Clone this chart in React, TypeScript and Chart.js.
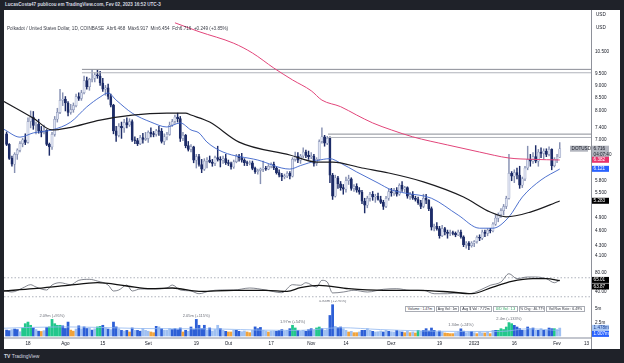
import React, { useEffect, useRef } from "react";
import { Chart, registerables } from "chart.js";

Chart.register(...registerables);

const FONT = "'Liberation Sans', 'DejaVu Sans', Arial, sans-serif";

// Daily DOT/USD candles, index 0 = 10 Jul 2022 ... index 207 = 2 Feb 2023
const opens = [7.20,6.86,6.43,6.26,6.55,6.68,6.88,7.00,6.92,7.62,
7.78,7.48,7.52,7.30,7.25,7.32,6.86,6.78,7.18,7.70,
7.95,8.40,8.45,8.30,7.95,8.05,8.20,8.55,8.48,8.70,
9.20,8.95,9.25,9.30,9.45,9.40,9.10,8.85,8.90,8.55,
8.22,7.30,7.15,7.45,7.40,7.58,7.50,7.62,7.00,6.98,
6.88,7.08,7.02,7.05,7.25,7.20,7.18,7.30,7.28,6.95,
7.10,7.18,7.50,7.62,7.78,7.72,7.05,7.15,6.82,6.70,
6.78,6.38,6.48,6.25,6.12,6.35,6.38,6.32,6.28,6.45,
6.40,6.38,6.42,6.30,6.28,6.18,6.33,6.50,6.45,6.38,
6.30,6.28,6.30,6.14,6.05,6.08,6.12,6.15,6.12,6.20,
6.26,6.15,6.02,5.95,5.90,5.93,6.00,5.92,6.40,6.50,
6.38,6.50,6.62,6.52,6.48,6.50,6.28,6.40,6.95,7.10,
6.90,7.05,5.95,5.40,5.88,5.72,5.62,5.58,5.80,5.85,
5.60,5.65,5.55,5.50,5.28,5.18,5.35,5.45,5.38,5.40,
5.32,5.25,5.15,5.35,5.52,5.48,5.55,5.45,5.68,5.58,
5.62,5.40,5.45,5.35,5.32,5.24,5.15,5.35,5.30,5.10,
4.68,4.70,4.65,4.50,4.65,4.58,4.55,4.56,4.55,4.52,
4.58,4.48,4.32,4.35,4.30,4.35,4.38,4.47,4.45,4.58,
4.55,4.62,4.60,4.75,4.88,4.96,5.05,5.15,5.35,6.00,
5.92,6.02,5.95,5.68,5.85,6.15,6.40,6.35,6.48,6.35,
6.62,6.58,6.65,6.55,6.70,6.22,6.41,6.467];

const highs = [7.26,6.88,6.50,6.60,6.72,6.95,7.05,7.20,7.75,8.00,
7.98,7.60,7.70,7.45,7.50,7.34,6.90,7.25,7.80,8.10,
8.84,8.70,8.55,8.35,8.25,8.30,8.65,8.70,8.80,9.40,
9.35,9.30,9.66,9.55,9.65,9.60,9.30,9.00,9.05,8.65,
8.25,7.45,7.55,7.60,7.70,7.75,7.72,7.68,7.10,7.05,
7.15,7.22,7.25,7.30,7.40,7.28,7.35,7.45,7.38,7.20,
7.25,7.60,7.70,7.85,7.92,7.80,7.25,7.18,6.95,6.85,
6.80,6.55,6.55,6.40,6.42,6.45,6.50,6.40,6.50,6.80,
6.48,6.50,6.55,6.38,6.32,6.38,6.55,6.55,6.58,6.42,
6.35,6.36,6.35,6.18,6.12,6.15,6.35,6.20,6.25,6.30,
6.32,6.18,6.10,6.00,5.98,6.05,6.05,6.45,6.62,6.60,
6.55,6.75,6.68,6.65,6.60,6.55,6.45,7.00,7.40,7.15,
7.12,7.10,6.00,5.95,5.92,5.78,5.70,5.90,5.95,5.88,
5.70,5.72,5.62,5.55,5.35,5.40,5.50,5.52,5.45,5.48,
5.40,5.30,5.40,5.58,5.60,5.60,5.62,5.72,5.78,5.65,
5.64,5.50,5.52,5.40,5.38,5.30,5.45,5.45,5.32,5.14,
4.75,4.78,4.70,4.72,4.68,4.62,4.62,4.60,4.58,4.62,
4.62,4.50,4.38,4.38,4.38,4.40,4.50,4.52,4.62,4.62,
4.65,4.66,4.78,4.95,5.00,5.10,5.20,5.40,6.55,6.05,
6.10,6.15,6.20,5.90,6.20,6.80,6.55,6.60,6.82,6.70,
6.75,6.72,6.72,6.78,6.72,6.45,6.55,6.917];

const lows = [6.82,6.40,6.20,6.02,6.40,6.62,6.78,6.85,6.90,7.40,
7.35,7.20,7.22,7.10,7.20,6.82,6.52,6.70,7.12,7.60,
7.90,8.20,8.00,7.82,7.88,7.95,8.15,8.40,8.40,8.65,
8.85,8.80,9.15,9.15,9.30,9.00,8.75,8.60,8.45,8.15,
7.20,6.95,7.10,7.05,7.25,7.40,7.45,6.95,6.88,6.82,
6.85,6.90,6.98,6.92,7.10,7.10,7.12,7.15,6.90,6.85,
7.00,7.15,7.45,7.55,7.60,6.95,6.98,6.75,6.65,6.62,
6.30,6.15,6.20,6.02,6.08,6.15,6.30,6.20,6.22,6.35,
6.18,6.28,6.25,6.22,6.12,6.14,6.30,6.35,6.32,6.22,
6.22,6.24,6.10,6.00,5.98,5.72,6.05,6.08,6.10,6.15,
6.10,5.98,5.90,5.80,5.85,5.88,5.85,5.90,6.35,6.30,
6.28,6.45,6.45,6.40,6.42,6.20,6.22,6.38,6.90,6.80,
6.85,5.75,5.32,5.38,5.60,5.55,5.45,5.50,5.70,5.55,
5.52,5.50,5.45,5.22,5.00,5.12,5.28,5.30,5.25,5.30,
5.22,5.08,5.12,5.30,5.40,5.42,5.40,5.42,5.52,5.50,
5.35,5.32,5.32,5.28,5.20,5.10,5.12,5.22,5.05,4.62,
4.60,4.62,4.45,4.48,4.52,4.45,4.50,4.52,4.48,4.50,
4.45,4.28,4.25,4.22,4.27,4.28,4.35,4.40,4.42,4.48,
4.50,4.56,4.58,4.72,4.80,4.90,4.95,5.10,5.33,5.80,
5.75,5.85,5.60,5.62,5.80,6.10,6.20,6.28,6.30,6.20,
6.45,6.40,6.48,6.50,6.10,6.18,6.30,6.454];

const closes = [6.86,6.43,6.26,6.55,6.68,6.88,7.00,6.92,7.62,7.78,
7.48,7.52,7.30,7.25,7.32,6.86,6.78,7.18,7.70,7.95,
8.40,8.45,8.30,7.95,8.05,8.20,8.55,8.48,8.70,9.20,
8.95,9.25,9.30,9.45,9.40,9.10,8.85,8.90,8.55,8.22,
7.30,7.15,7.45,7.40,7.58,7.50,7.62,7.00,6.98,6.88,
7.08,7.02,7.05,7.25,7.20,7.18,7.30,7.28,6.95,7.10,
7.18,7.50,7.62,7.78,7.72,7.05,7.15,6.82,6.70,6.78,
6.38,6.48,6.25,6.12,6.35,6.38,6.32,6.28,6.45,6.40,
6.38,6.42,6.30,6.28,6.18,6.33,6.50,6.45,6.38,6.30,
6.28,6.30,6.14,6.05,6.08,6.12,6.15,6.12,6.20,6.26,
6.15,6.02,5.95,5.90,5.93,6.00,5.92,6.40,6.50,6.38,
6.50,6.62,6.52,6.48,6.50,6.28,6.40,6.95,7.10,6.90,
7.05,5.95,5.40,5.88,5.72,5.62,5.58,5.80,5.85,5.60,
5.65,5.55,5.50,5.28,5.18,5.35,5.45,5.38,5.40,5.32,
5.25,5.15,5.35,5.52,5.48,5.55,5.45,5.68,5.58,5.62,
5.40,5.45,5.35,5.32,5.24,5.15,5.35,5.30,5.10,4.68,
4.70,4.65,4.50,4.65,4.58,4.55,4.56,4.55,4.52,4.58,
4.48,4.32,4.35,4.30,4.35,4.38,4.47,4.45,4.58,4.55,
4.62,4.60,4.75,4.88,4.96,5.05,5.15,5.35,6.00,5.92,
6.02,5.95,5.68,5.85,6.15,6.40,6.35,6.48,6.35,6.62,
6.58,6.65,6.55,6.70,6.22,6.41,6.467,6.716];

// Volume in millions and the indicator's colour class (b=blue, l=light blue, g=green, o=orange)
const volumesM = [1.1,1.0,1.2,1.3,1.2,0.8,1.5,2.3,2.6,2.0,
1.5,1.2,0.9,0.85,1.0,1.6,1.7,3.1,2.3,2.0,
2.0,1.9,1.4,2.6,1.1,0.9,1.3,1.9,1.35,1.7,
1.4,1.5,1.1,1.35,1.7,1.8,2.0,1.5,1.3,1.2,
2.6,1.7,1.35,1.05,0.93,1.05,0.75,1.5,1.05,1.05,
0.9,1.35,1.05,0.9,0.75,0.62,1.8,1.7,1.37,1.06,
1.06,1.37,1.2,1.37,1.18,1.5,0.75,1.06,0.9,1.68,
1.2,3.1,2.0,1.37,2.0,1.06,1.5,0.93,1.2,2.0,
1.37,1.06,0.87,0.75,0.75,1.06,1.06,0.87,0.8,0.93,
0.75,0.62,1.06,1.7,1.37,1.6,1.06,0.93,0.75,0.87,
0.9,0.87,1.06,1.2,0.9,1.06,1.37,2.0,1.5,1.06,
0.87,1.06,0.87,1.18,1.37,1.06,1.5,1.68,1.37,1.06,
1.2,3.83,5.84,1.8,1.55,1.68,1.37,1.06,0.75,0.87,
0.62,0.62,0.75,1.06,1.06,1.37,1.06,0.87,0.75,0.8,
0.93,0.75,1.06,0.87,0.8,0.75,1.06,0.87,0.75,0.62,
0.87,0.62,0.75,0.56,1.06,0.87,1.06,1.37,0.93,1.49,
1.06,0.75,0.93,0.75,0.56,0.5,0.44,0.44,0.62,0.75,
1.34,0.9,0.62,0.75,0.87,0.62,0.44,0.75,0.6,0.56,
0.75,0.44,1.06,1.06,1.06,1.37,1.2,1.68,2.5,2.3,
1.99,1.68,1.37,1.06,1.06,1.68,1.37,1.49,1.06,1.06,
1.37,1.06,1.06,1.49,1.37,1.37,1.2,1.478];

const volumeClass = ("bblbblgggg" + "blbolbgggg" + "gbbboolblb" + "blblggblbl" + "bblblboblb" +
  "blllooblbl" + "llbbbboblb" + "bbbbblblll" + "blboolbbll" + "oolbbbllol" +
  "lbbbllbggb" + "llbbblggbl" + "lbblbbllol" + "oolbbllbll" + "lblbllblbo" +
  "lologlbbbb" + "blblooooll" + "bbllblollo" + "lolbgggggg" + "bbbblblblb" + "lblbbgll").split("");

// Moving averages (day index, value)
const ma200Days = [63, 72, 85, 92, 100, 107, 114, 118, 125, 131, 137, 144, 152, 165, 177, 188, 197, 207];
const ma200Vals = [12.01, 11.53, 10.93, 10.45, 9.75, 9.23, 8.78, 8.41, 8.16, 7.85, 7.57, 7.33, 7.10, 6.84, 6.62, 6.44, 6.40, 6.382];
const ma50Days = [-1, 10, 17, 23, 35, 47, 60, 67, 69, 76, 87, 106, 116, 122, 133, 143, 156, 171, 181, 187, 196, 207];
const ma50Vals = [8.36, 7.74, 7.33, 7.40, 7.67, 7.85, 7.92, 7.92, 7.85, 7.60, 6.93, 6.53, 6.32, 6.32, 6.15, 6.01, 5.77, 5.38, 5.02, 4.91, 5.02, 5.283];
const ema20Days = [-1, 5, 10, 17, 24, 30, 35, 38, 41, 47, 54, 60, 65, 69, 72, 75, 81, 94, 106, 110, 116, 121, 125, 131, 139, 144, 149, 159, 169, 177, 182, 188, 193, 200, 207];
const ema20Vals = [7.35, 7.09, 7.23, 7.33, 7.60, 8.15, 8.53, 8.69, 8.41, 7.92, 7.60, 7.43, 7.57, 7.33, 7.23, 6.93, 6.62, 6.38, 6.12, 6.22, 6.36, 6.42, 6.29, 6.04, 5.74, 5.56, 5.48, 5.35, 4.95, 4.66, 4.66, 4.91, 5.38, 5.82, 6.121];

// RSI and its moving average
const rsiDays = [-1, 2, 6, 9, 11, 15, 17, 20, 24, 27, 31, 34, 38, 40, 42, 45, 47, 50, 55, 60, 62, 65, 69, 72, 76, 80, 85, 91, 97, 103, 107, 110, 112, 116, 118, 120, 122, 126, 130, 135, 141, 146, 151, 156, 160, 165, 170, 173, 177, 181, 185, 188, 191, 195, 198, 202, 205, 207];
const rsiVals = [43.6, 40, 48.4, 55.4, 50.5, 44.2, 54.7, 59.6, 55.4, 64.6, 66.7, 63, 54.7, 42.1, 44.2, 54.7, 42.1, 46.3, 46.3, 48.4, 54.7, 44.2, 42.1, 36.4, 42.1, 44.2, 44.2, 48.4, 44.2, 38.5, 55.4, 54.1, 59.6, 50.5, 64.6, 61, 38, 40, 43.6, 40, 45.7, 47, 43.6, 43.6, 36.4, 36.4, 38.5, 36.4, 43.6, 54.1, 61, 78.5, 68, 71.6, 71.6, 68, 59.6, 65.01];
const rsiMaDays = [-1, 10, 23, 34, 45, 54, 62, 72, 85, 97, 105, 110, 117, 128, 141, 154, 166, 174, 182, 189, 197, 202, 207];
const rsiMaVals = [42.1, 46.9, 54.1, 59.6, 52.6, 46.9, 48.4, 41.5, 43.6, 43.6, 41.5, 49, 54.1, 46.9, 43.6, 43.6, 40, 36.4, 50.5, 62.5, 68, 68, 63.87];
const rsiBands = [70, 30];

// Volume moving average
const volMaDays = [-1, 20, 35, 50, 65, 80, 95, 110, 125, 140, 155, 170, 185, 195, 207];
const volMaVals = [1.45, 1.7, 1.6, 1.4, 1.35, 1.3, 1.1, 1.05, 1.55, 1.2, 0.95, 0.85, 0.85, 1.35, 1.007];

// Drawn horizontal levels (start day, price)
const levelStartDays = [28.2, 28.2, 120.3, 120.3];
const levelVals = [9.69, 9.54, 7.19, 7.08];

// Axis ticks
const xTickDays = [8, 22, 36, 53, 71, 83, 99, 114, 127, 144, 162, 175, 190, 206, 217];
const xTickLabels = ["18", "Ago", "15", "Set", "19", "Out", "17", "Nov", "14", "Dez", "19", "2023", "16", "Fev", "13"];
const priceTicks = [10.5, 9.5, 9, 8.5, 8, 7.4, 7, 5.8, 5.5, 4.9, 4.6, 4.3, 4.1];
const rsiTicks = [80, 40];
const volTicks = [5, 2.5];

const volLabelDays = [17, 71, 107, 122, 170, 188];
const volLabelTexts = ["2.09m (+95%)", "2.05m (+115%)", "1.97m (+54%)", "5.84m (+276%)", "1.34m (+24%)", "2.4m (+133%)"];

const volLegendTexts = ["Volume : 1.47m", "Avg Vol : 1m", "Avg $ Vol : 7.72m", "U/D Vol : 1.3", "% Chg : 46.77%", "Vol Run Rate : 6.49%"];
const volLegendWidths = [30, 23, 32, 25, 26, 39];

const X_MIN = -0.97;
const X_MAX = 218.7;

type Tag = { value: number; lines: string[]; bg: string; fg: string; shift?: number; inside?: boolean };

function tagPlugin(tags: Tag[]) {
  return {
    id: "valueTags",
    afterDraw(chart: any) {
      const { ctx, chartArea } = chart;
      const ys = chart.scales.y;
      ctx.save();
      ctx.font = `4.6px ${FONT}`;
      ctx.textBaseline = "middle";
      ctx.textAlign = "left";
      for (const t of tags) {
        const yc = ys.getPixelForValue(t.value) + (t.shift || 0);
        const x0 = t.inside ? chartArea.right - 21 : chartArea.right + 1;
        const w = t.inside ? 18 : 17;
        const h = 6 * t.lines.length + (t.lines.length > 1 ? 1 : 0);
        ctx.fillStyle = t.bg;
        ctx.fillRect(x0, yc - 3.2, w, h);
        ctx.fillStyle = t.fg;
        t.lines.forEach((s, i) => ctx.fillText(s, x0 + 1.6, yc + i * 6));
      }
      ctx.restore();
    },
  };
}

const volLabelPlugin = {
  id: "volLabels",
  afterDatasetsDraw(chart: any) {
    const { ctx } = chart;
    const xs = chart.scales.x;
    const ys = chart.scales.y;
    ctx.save();
    ctx.font = `4px ${FONT}`;
    ctx.fillStyle = "#6b6e78";
    ctx.textAlign = "center";
    ctx.textBaseline = "bottom";
    volLabelDays.forEach((d, i) => {
      ctx.fillText(volLabelTexts[i], xs.getPixelForValue(d), ys.getPixelForValue(volumesM[d]) - 1.5);
    });
    ctx.restore();
  },
};

function lineDs(days: number[], vals: number[], color: string, width: number, extra: any = {}) {
  return {
    type: "line",
    data: days.map((d, i) => ({ x: d, y: vals[i] })),
    borderColor: color,
    borderWidth: width,
    pointRadius: 0,
    cubicInterpolationMode: "monotone",
    fill: false,
    order: 0,
    ...extra,
  };
}

function xScale(show: boolean) {
  return {
    type: "linear",
    min: X_MIN,
    max: X_MAX,
    offset: false,
    bounds: "data",
    display: show,
    grid: { display: false, drawTicks: false, offset: false },
    border: { display: show, color: "#c3c6ce", width: 2 },
    ticks: {
      autoSkip: false,
      maxRotation: 0,
      padding: 3,
      color: "#131722",
      font: { size: 4.6, family: FONT },
      callback: (v: any) => {
        const k = xTickDays.indexOf(Number(v));
        return k >= 0 ? xTickLabels[k] : "";
      },
    },
    afterBuildTicks: (s: any) => {
      s.ticks = xTickDays.map((v) => ({ value: v }));
    },
    afterFit: (s: any) => {
      s.height = show ? 11 : 0;
      s.paddingLeft = 0;
      s.paddingRight = 0;
    },
  };
}

function yScale(extra: any, ticks: number[], fmt: (v: number) => string) {
  return {
    position: "right",
    bounds: "data",
    stacked: false,
    grid: { display: false, drawTicks: false },
    border: { display: true, color: "#8e919a", width: 1 },
    ticks: {
      autoSkip: false,
      padding: 4,
      color: "#131722",
      font: { size: 4.6, family: FONT },
      callback: (v: any) => fmt(Number(v)),
    },
    afterBuildTicks: (s: any) => {
      s.ticks = ticks.map((v) => ({ value: v }));
    },
    afterFit: (s: any) => {
      s.width = 29;
      s.paddingTop = 0;
      s.paddingBottom = 0;
    },
    ...extra,
  };
}

const baseOptions = {
  responsive: false,
  animation: false,
  events: [],
  layout: { padding: 0, autoPadding: false },
  plugins: { legend: { display: false }, tooltip: { enabled: false } },
};

export default function App() {
  const priceRef = useRef<HTMLCanvasElement>(null);
  const rsiRef = useRef<HTMLCanvasElement>(null);
  const volRef = useRef<HTMLCanvasElement>(null);

  useEffect(() => {
    document.body.style.margin = "0";
    const charts: any[] = [];
    const days = closes.map((_, i) => i);
    const isBull = (i: number) => closes[i] >= opens[i];

    charts.push(
      new Chart(priceRef.current as any, {
        type: "bar",
        data: {
          datasets: [
            lineDs(ma200Days, ma200Vals, "#e2457a", 1),
            lineDs(ma50Days, ma50Vals, "#1b1b1f", 1.2),
            lineDs(ema20Days, ema20Vals, "#3b62c9", 0.9),
            ...levelVals.map((v, i) => ({
              type: "line",
              data: [{ x: levelStartDays[i], y: v }, { x: X_MAX, y: v }],
              borderColor: i % 2 ? "#b0b3bb" : "#8a8d96",
              borderWidth: 1,
              pointRadius: 0,
              order: 1,
            })),
            {
              type: "bar",
              data: days.map((i) => ({ x: i, y: [opens[i], closes[i]] })),
              backgroundColor: days.map((i) => (isBull(i) ? "#dde2f1" : "#1d2c68")),
              borderColor: days.map((i) => (isBull(i) ? "#7c87ad" : "#1d2c68")),
              borderWidth: 0.5,
              borderSkipped: false,
              barThickness: 2.2,
              minBarLength: 0.8,
              stack: "c",
              order: 2,
            },
            {
              type: "bar",
              data: days.map((i) => ({ x: i, y: [lows[i], highs[i]] })),
              backgroundColor: days.map((i) => (isBull(i) ? "#8791b3" : "#1d2c68")),
              barThickness: 0.8,
              stack: "c",
              order: 3,
            },
          ] as any,
        },
        options: {
          ...baseOptions,
          scales: {
            x: xScale(false),
            y: yScale({ type: "logarithmic", min: 3.915, max: 12.74 }, priceTicks, (v) => v.toFixed(3)),
          },
        } as any,
        plugins: [
          tagPlugin([
            { value: 6.716, lines: ["DOTUSD"], bg: "#b2b5be", fg: "#131722", inside: true },
            { value: 6.716, lines: ["6.716", "04:07:40"], bg: "#b2b5be", fg: "#131722" },
            { value: 6.382, lines: ["6.382"], bg: "#e8336b", fg: "#ffffff" },
            { value: 6.121, lines: ["6.121"], bg: "#2962ff", fg: "#ffffff" },
            { value: 5.283, lines: ["5.283"], bg: "#000000", fg: "#ffffff" },
          ]) as any,
        ],
      })
    );

    charts.push(
      new Chart(rsiRef.current as any, {
        type: "line",
        data: {
          datasets: [
            ...rsiBands.map((b) => ({
              type: "line",
              data: [{ x: X_MIN, y: b }, { x: X_MAX, y: b }],
              borderColor: "#9aa0ab",
              borderWidth: 0.8,
              borderDash: [1.5, 2],
              pointRadius: 0,
              order: 2,
            })),
            lineDs(rsiDays, rsiVals, "#4d525e", 0.7, { order: 1 }),
            lineDs(rsiMaDays, rsiMaVals, "#111111", 1.3, { order: 0 }),
          ] as any,
        },
        options: {
          ...baseOptions,
          scales: {
            x: xScale(false),
            y: yScale({ type: "linear", min: 23.16, max: 94.74 }, rsiTicks, (v) => v.toFixed(2)),
          },
        } as any,
        plugins: [
          tagPlugin([
            { value: 65.01, lines: ["65.01"], bg: "#000000", fg: "#ffffff" },
            { value: 63.87, lines: ["63.87"], bg: "#000000", fg: "#ffffff", shift: 6 },
          ]) as any,
        ],
      })
    );

    const volColors: any = { b: "#2d5fd6", l: "#9fc0f2", g: "#22c78c", o: "#f2a33a" };
    charts.push(
      new Chart(volRef.current as any, {
        type: "bar",
        data: {
          datasets: [
            lineDs(volMaDays, volMaVals, "#8fb6f0", 0.8, { order: 0 }),
            {
              type: "bar",
              data: days.map((i) => ({ x: i, y: volumesM[i] })),
              backgroundColor: days.map((i) => volColors[volumeClass[i]]),
              barThickness: 2.1,
              order: 1,
            },
          ] as any,
        },
        options: {
          ...baseOptions,
          scales: {
            x: xScale(true),
            y: yScale({ type: "linear", min: -0.373, max: 6.716 }, volTicks, (v) => v + "m"),
          },
        } as any,
        plugins: [
          volLabelPlugin as any,
          tagPlugin([
            { value: 1.478, lines: ["1.478m"], bg: "#a9c8f5", fg: "#173a8c" },
            { value: 1.007, lines: ["1.007m"], bg: "#2962ff", fg: "#ffffff", shift: 3.5 },
          ]) as any,
        ],
      })
    );

    return () => charts.forEach((c) => c.destroy());
  }, []);

  const txt: React.CSSProperties = { position: "absolute", fontFamily: FONT, whiteSpace: "nowrap", fontSize: 4.6, lineHeight: "6px" };
  const cell: React.CSSProperties = {
    border: "0.6px solid #a9acb4",
    boxSizing: "border-box",
    height: 6,
    lineHeight: "5px",
    fontSize: 3.5,
    color: "#2a2e39",
    background: "#fff",
    whiteSpace: "nowrap",
    overflow: "hidden",
    textAlign: "center",
  };

  return (
    <div style={{ position: "fixed", left: 0, top: 0, width: 624, height: 363, background: "#1f2229", overflow: "hidden" }}>
      <div style={{ ...txt, left: 5, top: 2, color: "#d6d9e0", fontWeight: "bold" }}>
        LucasCosta47 publicou em TradingView.com, Fev 02, 2023 16:52 UTC-3
      </div>
      <div style={{ position: "absolute", left: 4, top: 10, width: 616, height: 339, background: "#ffffff" }} />
      <div style={{ position: "absolute", left: 591, top: 338, width: 1, height: 11, background: "#8e919a" }} />
      <canvas ref={priceRef} width={616} height={256} style={{ position: "absolute", left: 4, top: 10 }} />
      <canvas ref={rsiRef} width={616} height={34} style={{ position: "absolute", left: 4, top: 266 }} />
      <canvas ref={volRef} width={616} height={49} style={{ position: "absolute", left: 4, top: 300 }} />
      <div style={{ ...txt, left: 7, top: 26, color: "#3a3d47" }}>
        Polkadot / United States Dollar, 1D, COINBASE&nbsp;&nbsp;Abr6.468&nbsp;&nbsp;Máx6.917&nbsp;&nbsp;Mín6.454&nbsp;&nbsp;Fch6.716&nbsp;&nbsp;+0.249 (+3.85%)
      </div>
      <div style={{ ...txt, left: 596, top: 12, color: "#131722" }}>USD</div>
      <div style={{ ...txt, left: 596, top: 25, color: "#131722" }}>USD</div>
      <div style={{ position: "absolute", left: 405, top: 306, display: "flex", gap: 1, fontFamily: FONT }}>
        {volLegendTexts.map((t, i) => (
          <div key={i} style={{ ...cell, width: volLegendWidths[i], color: i === 3 ? "#1f9d55" : "#2a2e39" }}>
            {t}
          </div>
        ))}
      </div>
      <div style={{ ...txt, left: 4, top: 353, color: "#d6d9e0", fontSize: 5, fontWeight: "bold" }}>
        TV <span style={{ fontWeight: "normal" }}>TradingView</span>
      </div>
    </div>
  );
}
